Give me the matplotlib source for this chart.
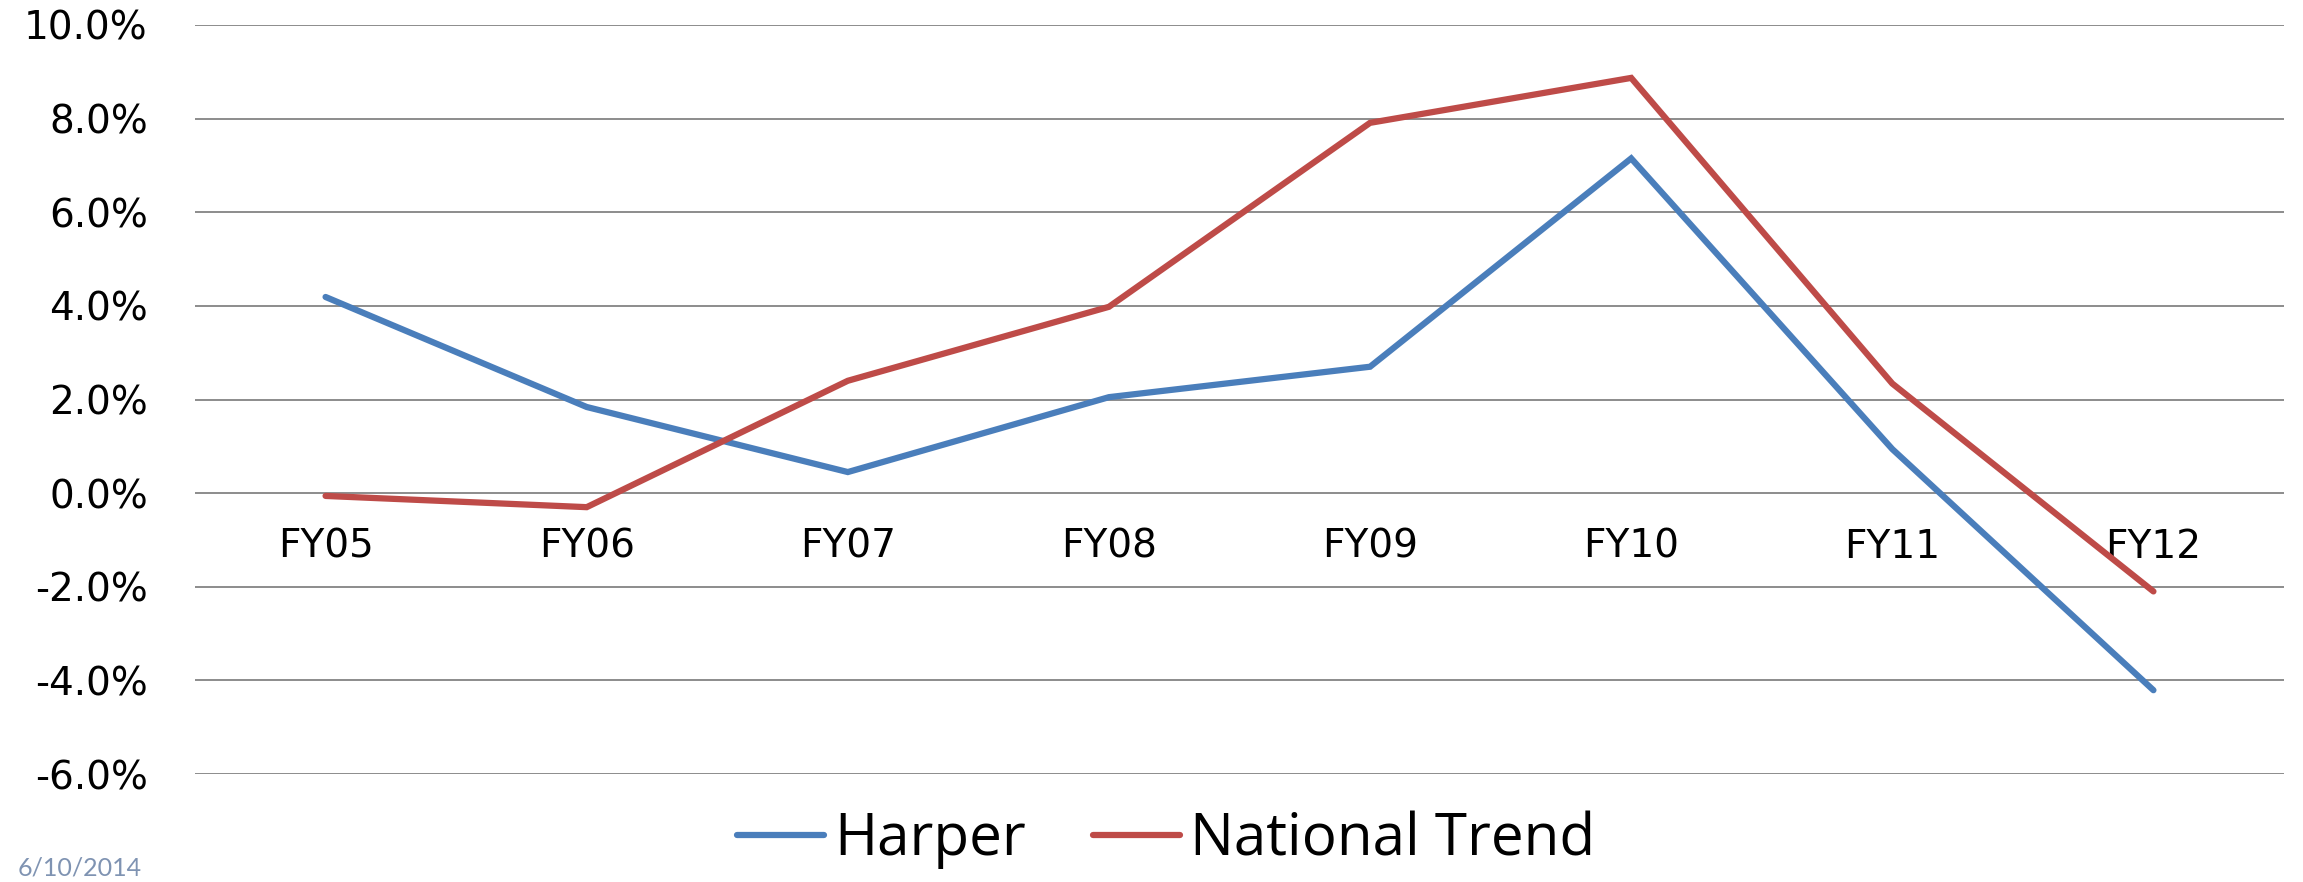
import matplotlib
matplotlib.use("Agg")
import matplotlib.pyplot as plt
from matplotlib.ticker import FuncFormatter

categories = ["FY05", "FY06", "FY07", "FY08", "FY09", "FY10", "FY11", "FY12"]
harper = [4.19, 1.84, 0.45, 2.05, 2.70, 7.15, 0.94, -4.21]
national_trend = [-0.06, -0.30, 2.40, 3.98, 7.91, 8.87, 2.34, -2.10]
yticks = [-6, -4, -2, 0, 2, 4, 6, 8, 10]
date_text = "6/10/2014"

W, H, DPI = 2303, 882, 100
fig = plt.figure(figsize=(W / DPI, H / DPI), dpi=DPI)
ax = fig.add_axes([195 / W, 1 - 774 / H, (2284 - 195) / W, (774 - 25) / H])

x = list(range(len(categories)))
blue = "#4A7EBB"
red = "#BE4B48"
l1, = ax.plot(x, harper, color=blue, lw=4.5, solid_joinstyle="miter", solid_capstyle="round", label="Harper", zorder=3)
l2, = ax.plot(x, national_trend, color=red, lw=4.5, solid_joinstyle="miter", solid_capstyle="round", label="National Trend", zorder=3)

ax.set_xlim(-0.5, len(categories) - 0.5)
ax.set_ylim(min(yticks), max(yticks))
ax.set_yticks(yticks)
ax.yaxis.set_major_formatter(FuncFormatter(lambda v, p: f"{v:.1f}%"))
ax.grid(axis="y", color="#8C8C8C", lw=1.4, zorder=1)
ax.set_axisbelow(True)

for s in ["top", "right", "left"]:
    ax.spines[s].set_visible(False)
ax.spines["bottom"].set_position(("data", 0))
ax.spines["bottom"].set_visible(False)

ax.set_xticks(x)
ax.set_xticklabels(categories)
ax.tick_params(axis="x", length=0, pad=25, labelsize=28, labelcolor="#000000")
ax.tick_params(axis="y", length=0, pad=34, labelsize=28, labelcolor="#000000")
for t in ax.get_xticklabels() + ax.get_yticklabels():
    t.set_fontfamily("DejaVu Sans")

leg = fig.legend(handles=[l1, l2], loc="center", bbox_to_anchor=(1166 / W, 1 - 840 / H),
                 ncol=2, frameon=False, handlelength=1.5, handletextpad=0.17,
                 columnspacing=1.15, borderpad=0.0, prop={"family": "Open Sans", "size": 42})

fig.text(18 / W, 1 - 856 / H, date_text, ha="left", va="top", fontsize=18,
         color="#7F93B2", family="Lato")

fig.savefig("out.png", dpi=DPI, facecolor="white")
